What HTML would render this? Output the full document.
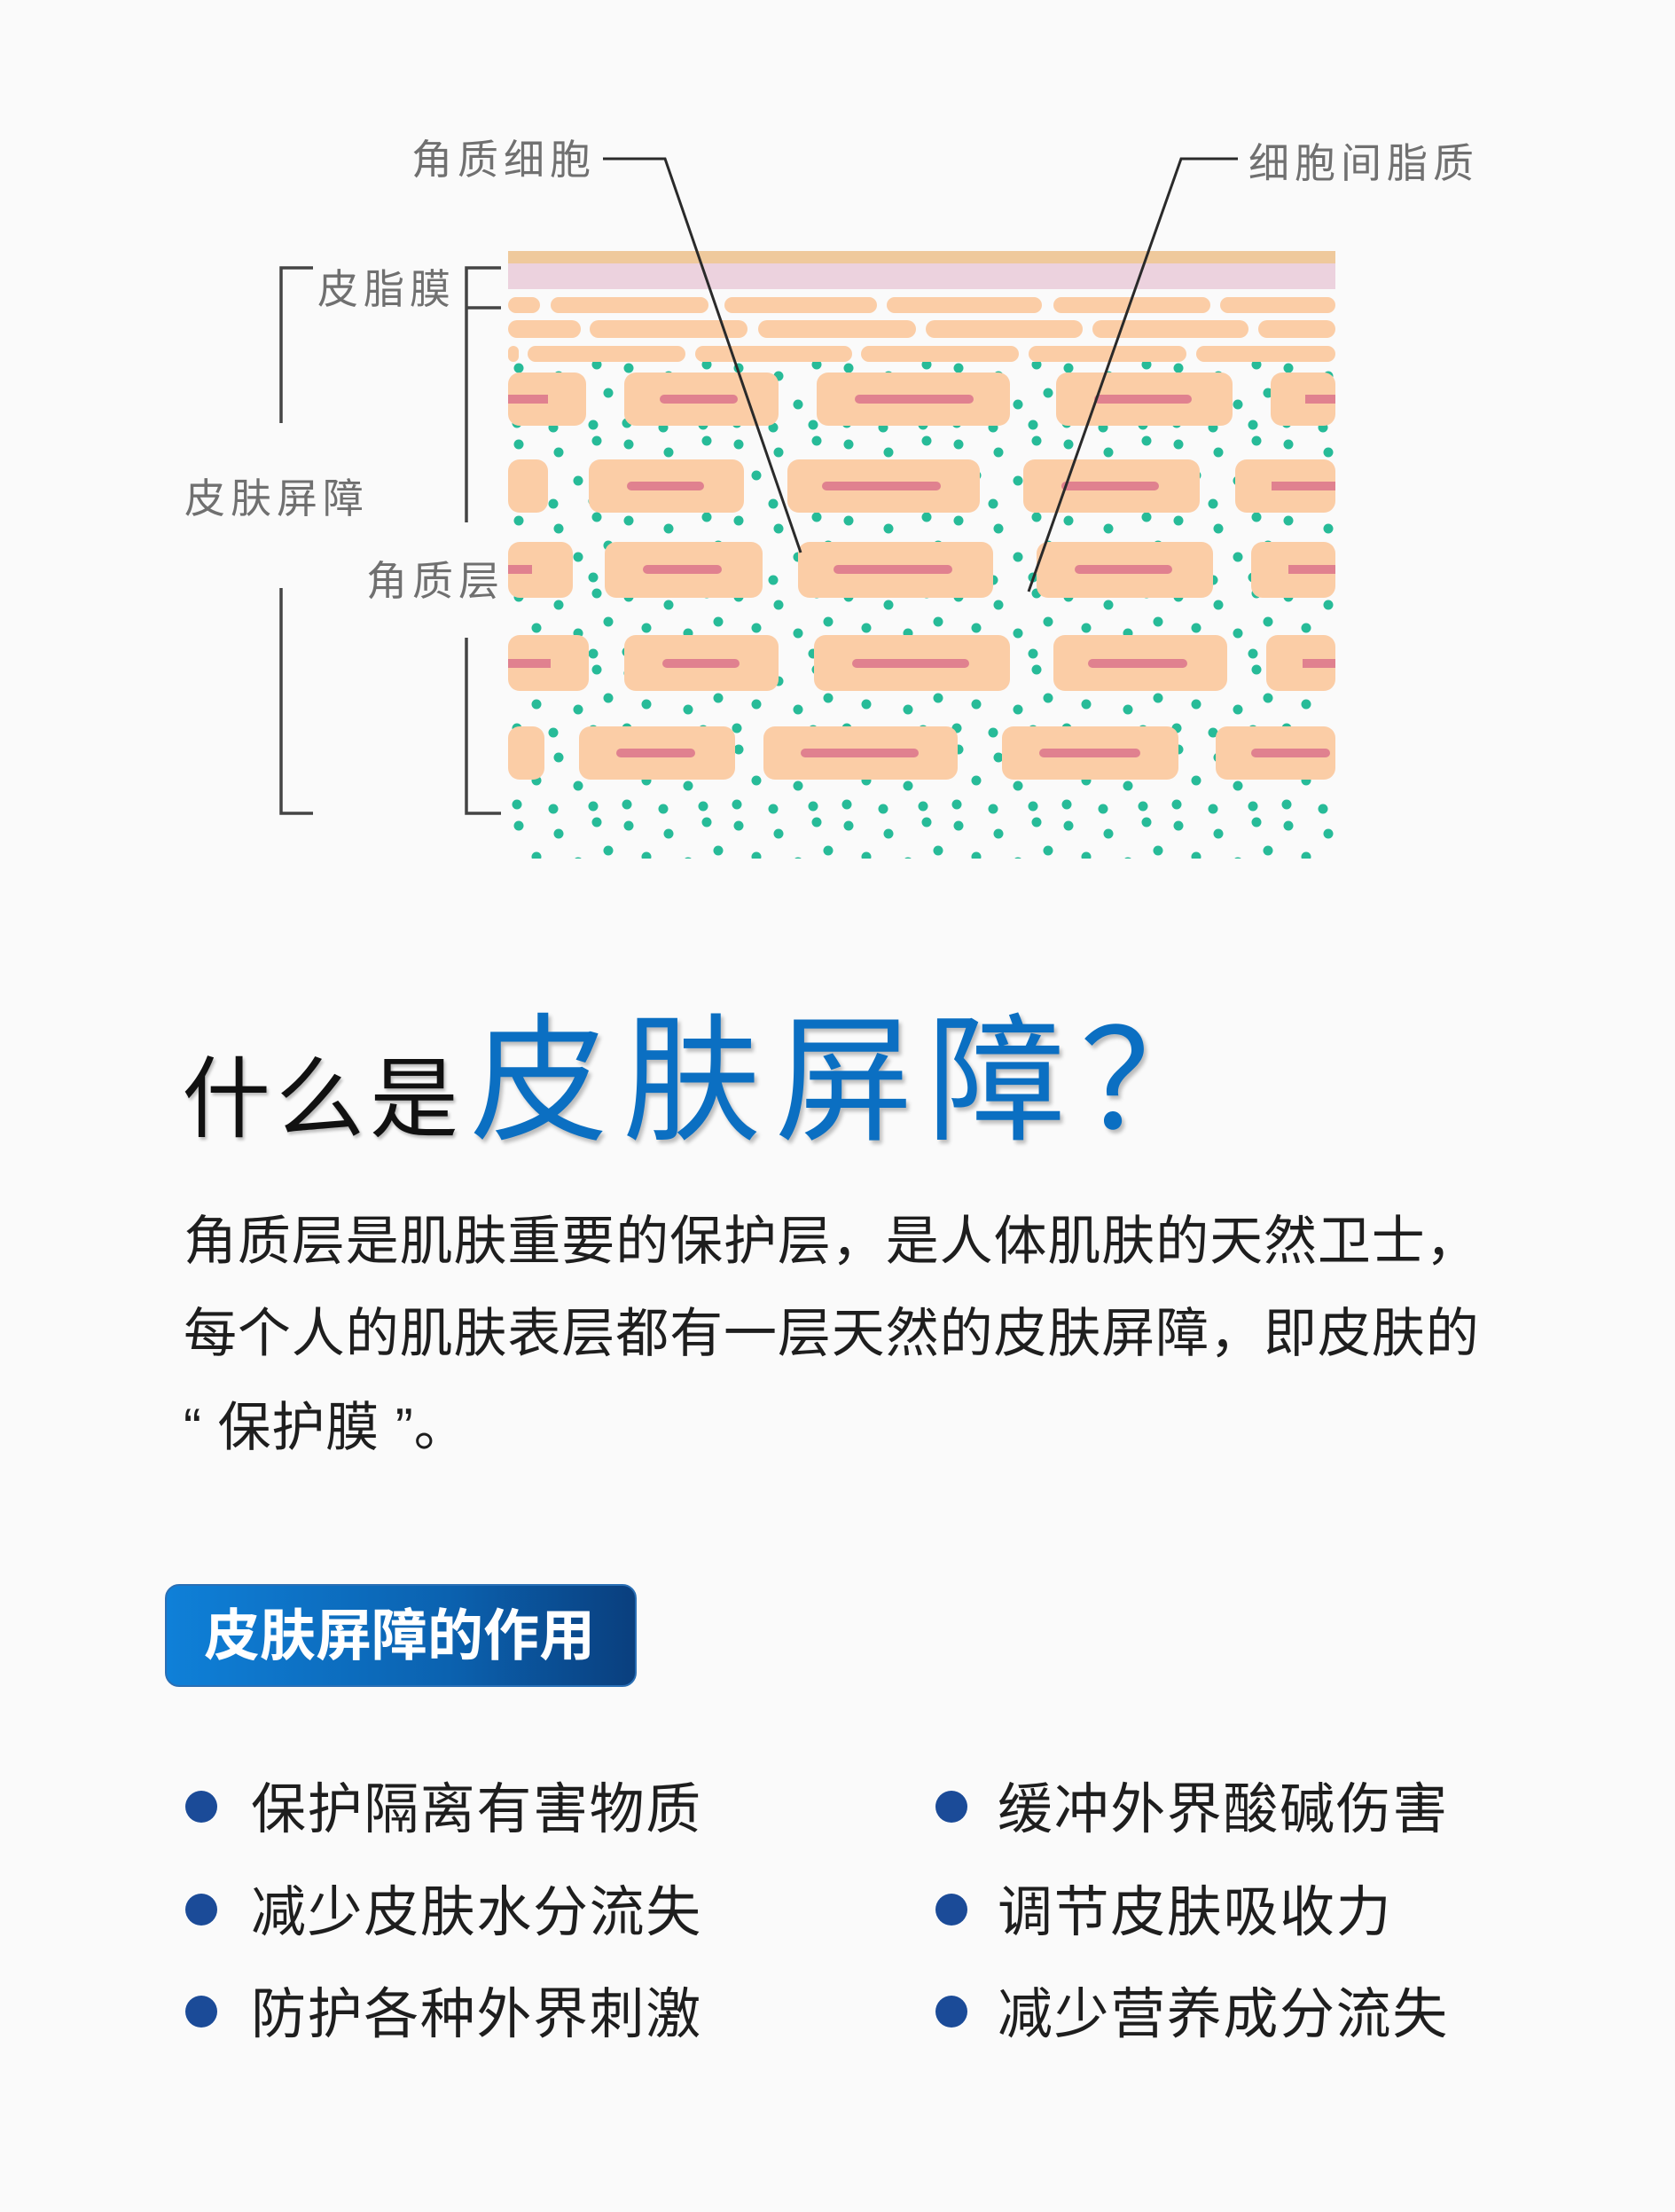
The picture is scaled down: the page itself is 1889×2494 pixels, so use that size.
<!DOCTYPE html>
<html><head><meta charset="utf-8"><style>
html,body{margin:0;padding:0;background:#fafafa;}
body{width:1889px;height:2494px;position:relative;overflow:hidden;font-family:"Liberation Sans","Noto Sans CJK SC",sans-serif;}
.t{position:absolute;white-space:nowrap;}
.lab{color:#707070;font-size:46px;letter-spacing:6px;line-height:1;}
.p{font-size:60px;color:#1e1e1e;left:207px;line-height:1;letter-spacing:0.9px;}
.dot{position:absolute;width:36px;height:36px;border-radius:50%;background:#1b4b98;}
.bl{position:absolute;font-size:62px;color:#1e1e1e;line-height:1;letter-spacing:1.6px;}
</style></head><body>
<svg width="1889" height="1000" style="position:absolute;left:0;top:0">
<defs>
<pattern id="dp" x="573" y="405" width="124" height="86" patternUnits="userSpaceOnUse">
<g fill="#27bb98">
<circle cx="12" cy="10" r="5.5"/><circle cx="57" cy="19" r="5.5"/><circle cx="100" cy="6" r="5.5"/>
<circle cx="32" cy="45" r="5.5"/><circle cx="79" cy="51" r="5.5"/><circle cx="113" cy="38" r="5.5"/>
<circle cx="10" cy="72" r="5.5"/><circle cx="51" cy="77" r="5.5"/><circle cx="96" cy="74" r="5.5"/>
</g></pattern>
</defs>
<rect x="573" y="408" width="933" height="560" fill="url(#dp)"/>
<rect x="573" y="283" width="933" height="15" fill="#efc99c"/>
<rect x="573" y="297" width="933" height="29" fill="#ecd2de"/>
<g fill="#fbcda6">
<rect x="573" y="335" width="36" height="18" rx="9"/><rect x="621" y="335" width="178" height="18" rx="9"/><rect x="817" y="335" width="172" height="18" rx="9"/><rect x="1000" y="335" width="175" height="18" rx="9"/><rect x="1188" y="335" width="177" height="18" rx="9"/><rect x="1376" y="335" width="130" height="18" rx="9"/>
<rect x="573" y="361" width="82" height="20" rx="10"/><rect x="665" y="361" width="178" height="20" rx="10"/><rect x="855" y="361" width="178" height="20" rx="10"/><rect x="1044" y="361" width="177" height="20" rx="10"/><rect x="1232" y="361" width="176" height="20" rx="10"/><rect x="1419" y="361" width="87" height="20" rx="10"/>
<rect x="573" y="390" width="12" height="18" rx="6"/><rect x="595" y="390" width="178" height="18" rx="9"/><rect x="784" y="390" width="177" height="18" rx="9"/><rect x="971" y="390" width="178" height="18" rx="9"/><rect x="1160" y="390" width="178" height="18" rx="9"/><rect x="1349" y="390" width="157" height="18" rx="9"/>
<rect x="573" y="420" width="88" height="60" rx="13"/><rect x="704" y="420" width="174" height="60" rx="13"/><rect x="921" y="420" width="218" height="60" rx="13"/><rect x="1191" y="420" width="199" height="60" rx="13"/><rect x="1433" y="420" width="73" height="60" rx="13"/>
<rect x="573" y="518" width="45" height="60" rx="13"/><rect x="664" y="518" width="175" height="60" rx="13"/><rect x="888" y="518" width="217" height="60" rx="13"/><rect x="1154" y="518" width="199" height="60" rx="13"/><rect x="1393" y="518" width="113" height="60" rx="13"/>
<rect x="573" y="611" width="73" height="63" rx="13"/><rect x="682" y="611" width="178" height="63" rx="13"/><rect x="900" y="611" width="220" height="63" rx="13"/><rect x="1169" y="611" width="199" height="63" rx="13"/><rect x="1411" y="611" width="95" height="63" rx="13"/>
<rect x="573" y="716" width="91" height="63" rx="13"/><rect x="704" y="716" width="174" height="63" rx="13"/><rect x="918" y="716" width="221" height="63" rx="13"/><rect x="1188" y="716" width="196" height="63" rx="13"/><rect x="1428" y="716" width="78" height="63" rx="13"/>
<rect x="573" y="819" width="41" height="60" rx="13"/><rect x="653" y="819" width="176" height="60" rx="13"/><rect x="861" y="819" width="219" height="60" rx="13"/><rect x="1130" y="819" width="199" height="60" rx="13"/><rect x="1371" y="819" width="135" height="60" rx="13"/>
</g>
<g fill="#e0818f">
<rect x="573" y="445" width="45" height="10"/><rect x="744" y="445" width="88" height="10" rx="5"/><rect x="964" y="445" width="134" height="10" rx="5"/><rect x="1234" y="445" width="110" height="10" rx="5"/><rect x="1472" y="445" width="34" height="10"/>
<rect x="707" y="543" width="87" height="10" rx="5"/><rect x="927" y="543" width="134" height="10" rx="5"/><rect x="1197" y="543" width="110" height="10" rx="5"/><rect x="1434" y="543" width="72" height="10"/>
<rect x="573" y="637" width="27" height="10"/><rect x="725" y="637" width="89" height="10" rx="5"/><rect x="940" y="637" width="134" height="10" rx="5"/><rect x="1212" y="637" width="110" height="10" rx="5"/><rect x="1453" y="637" width="53" height="10"/>
<rect x="573" y="743" width="48" height="10"/><rect x="747" y="743" width="87" height="10" rx="5"/><rect x="961" y="743" width="132" height="10" rx="5"/><rect x="1227" y="743" width="112" height="10" rx="5"/><rect x="1469" y="743" width="37" height="10"/>
<rect x="695" y="844" width="89" height="10" rx="5"/><rect x="903" y="844" width="133" height="10" rx="5"/><rect x="1172" y="844" width="114" height="10" rx="5"/><rect x="1411" y="844" width="89" height="10" rx="5"/>
</g>
<g stroke="#2a2a2a" stroke-width="3" fill="none">
<polyline points="680,179 750,179 903,623"/>
<polyline points="1396,179 1332,179 1160,667"/>
</g>
<g stroke="#444" stroke-width="3.5" fill="none">
<polyline points="353,302 317,302 317,477"/>
<polyline points="317,663 317,917 353,917"/>
<polyline points="565,302 526,302 526,589"/>
<line x1="526" y1="347" x2="565" y2="347"/>
<polyline points="526,719 526,917 565,917"/>
</g>
</svg>
<div class="t lab" style="left:464px;top:157px;">角质细胞</div>
<div class="t lab" style="left:1408px;top:161px;">细胞间脂质</div>
<div class="t lab" style="left:358px;top:303px;">皮脂膜</div>
<div class="t lab" style="left:208px;top:539px;">皮肤屏障</div>
<div class="t lab" style="left:413px;top:632px;">角质层</div>

<div class="t" style="left:205px;top:1190px;font-size:100px;line-height:1;color:#111;letter-spacing:6px;text-shadow:2px 3px 3px rgba(0,0,0,.25);">什么是</div>
<div class="t" style="left:530px;top:1142px;font-size:156px;line-height:1;color:#0b6fc2;letter-spacing:16px;text-shadow:3px 4px 4px rgba(0,0,0,.25);">皮肤屏障？</div>

<div class="t p" style="top:1370px;">角质层是肌肤重要的保护层，是人体肌肤的天然卫士，</div>
<div class="t p" style="top:1474px;">每个人的肌肤表层都有一层天然的皮肤屏障，即皮肤的</div>
<div class="t p" style="top:1580px;">“ 保护膜 ”。</div>

<div style="position:absolute;left:186px;top:1786px;width:532px;height:116px;border-radius:16px;background:linear-gradient(90deg,#0f80d8,#0b62b0 60%,#0a3f7e);border:2px solid #2a6fb5;box-sizing:border-box;"></div>
<div class="t" style="left:230px;top:1814px;font-size:63px;font-weight:bold;color:#fff;line-height:1;">皮肤屏障的作用</div>

<div class="dot" style="left:209px;top:2019px;"></div>
<div class="dot" style="left:209px;top:2135px;"></div>
<div class="dot" style="left:209px;top:2250px;"></div>
<div class="dot" style="left:1055px;top:2019px;"></div>
<div class="dot" style="left:1055px;top:2135px;"></div>
<div class="dot" style="left:1055px;top:2250px;"></div>
<div class="t bl" style="left:283px;top:2010px;">保护隔离有害物质</div>
<div class="t bl" style="left:283px;top:2126px;">减少皮肤水分流失</div>
<div class="t bl" style="left:283px;top:2241px;">防护各种外界刺激</div>
<div class="t bl" style="left:1125px;top:2010px;">缓冲外界酸碱伤害</div>
<div class="t bl" style="left:1125px;top:2126px;">调节皮肤吸收力</div>
<div class="t bl" style="left:1125px;top:2241px;">减少营养成分流失</div>
</body></html>
